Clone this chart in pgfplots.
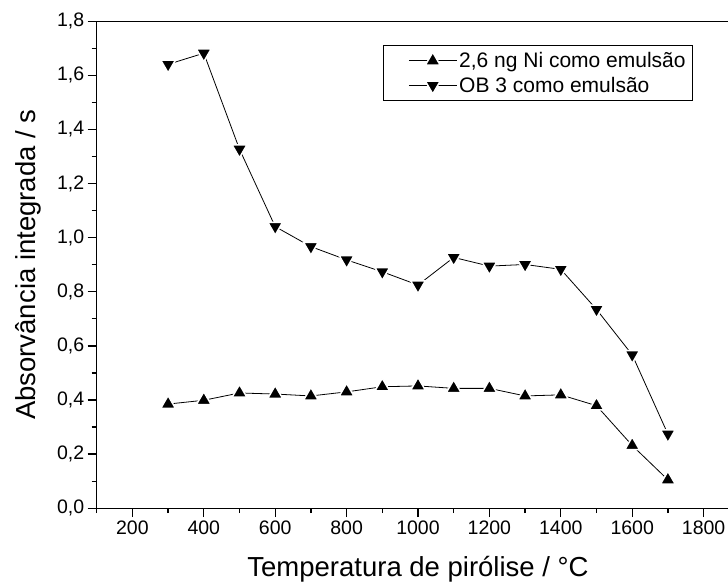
\documentclass[border=0pt]{standalone}
\usepackage{fontspec}
\setmainfont{Liberation Sans}
\usepackage{pgfplots}
\pgfplotsset{compat=1.18}
\begin{document}
\begin{tikzpicture}
\begin{axis}[
  scale only axis, width=642.6bp, height=486.9bp,
  xmin=100, xmax=1900, ymin=0, ymax=1.8,
  xtick={200,400,600,800,1000,1200,1400,1600,1800},
  ytick={0,0.2,0.4,0.6,0.8,1.0,1.2,1.4,1.6,1.8},
  minor xtick={100,300,500,700,900,1100,1300,1500,1700,1900},
  minor ytick={0.1,0.3,0.5,0.7,0.9,1.1,1.3,1.5,1.7},
  xtick pos=bottom, ytick pos=left, tick align=outside,
  major tick length=9bp, minor tick length=5bp,
  axis line style={line width=1.3bp},
  every tick/.style={line width=1.3bp, black},
  tick label style={font=\fontsize{19.5bp}{23bp}\selectfont},
  /pgf/number format/assume math mode=true,
  yticklabel style={/pgf/number format/.cd, use comma, fixed, fixed zerofill, precision=1},
  xticklabel style={/pgf/number format/.cd, 1000 sep={}},
  xlabel={Temperatura de pirólise / °C},
  ylabel={Absorvância integrada / s},
  every axis x label/.style={at={(axis description cs:0.5,-0.1397)}, anchor=base, font=\fontsize{27.5bp}{32bp}\selectfont},
  every axis y label/.style={at={(axis description cs:-0.0945,0.5)}, rotate=90, anchor=base, font=\fontsize{27.5bp}{32bp}\selectfont},
  legend style={at={(0.4455,0.9513)}, anchor=north west, draw=black, line width=0.8bp,
    font=\fontsize{21bp}{25bp}\selectfont, inner xsep=5bp, inner ysep=5bp, row sep=4bp,
    cells={anchor=west}},
  legend image code/.code={\path (-20bp,0bp);\draw[mark repeat=2, mark phase=2, #1] plot coordinates {(0bp,0bp)(24bp,0bp)(48bp,0bp)};},
]
\coordinate (O) at (rel axis cs:0,0);
\addplot[black, line width=0.8bp, mark=triangle*, mark size=8.5bp,
  mark options={fill=black, draw=white, line width=1.5bp}]
  coordinates {(300,0.385)(400,0.399)(500,0.426)(600,0.422)(700,0.415)(800,0.430)(900,0.449)(1000,0.452)(1100,0.443)(1200,0.443)(1300,0.415)(1400,0.419)(1500,0.379)(1600,0.232)(1700,0.105)};
\addlegendentry{2,6 ng Ni como emulsão}
\addplot[black, line width=0.8bp, mark=triangle*, mark size=8.5bp,
  mark options={fill=black, draw=white, line width=1.5bp, rotate=180}]
  coordinates {(300,1.641)(400,1.682)(500,1.327)(600,1.041)(700,0.967)(800,0.918)(900,0.874)(1000,0.825)(1100,0.927)(1200,0.895)(1300,0.901)(1400,0.883)(1500,0.735)(1600,0.567)(1700,0.274)};
\addlegendentry{OB 3 como emulsão}
\end{axis}
\pgfresetboundingbox
\path ([shift={(-96.7bp,-78.8bp)}]O) rectangle ([shift={(631.3bp,508.2bp)}]O);
\end{tikzpicture}
\end{document}
